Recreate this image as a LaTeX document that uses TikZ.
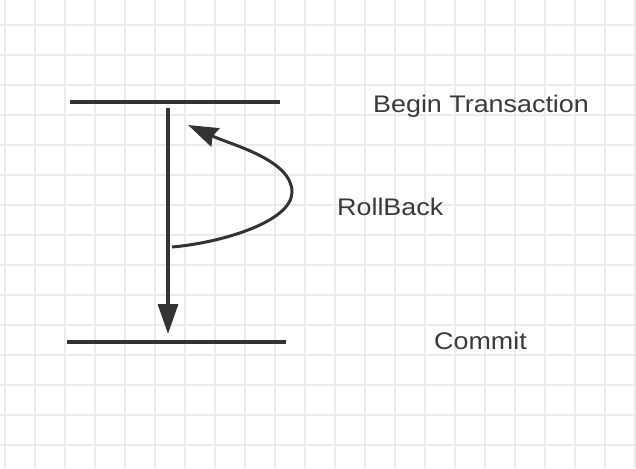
\documentclass[tikz,border=0pt]{standalone}
\usepackage{fontspec}
\setmainfont{Liberation Sans}[FakeStretch=1.12]
\usetikzlibrary{arrows.meta}
\definecolor{inkc}{HTML}{333333}
\definecolor{textc}{HTML}{3A3A3A}
\definecolor{gridc}{HTML}{EBEBEB}
\tikzset{
  gridline/.style={draw=gridc, line width=1.8pt},
  bar/.style={draw=inkc, line width=3.4pt},
  flow/.style={draw=inkc, line width=3.4pt, -{Triangle[length=30pt,width=20pt]}},
  curvearrow/.style={draw=inkc, line width=3pt, -{Stealth[length=30pt,width=20pt,inset=3pt]}},
  lbl/.style={inner sep=0pt, anchor=base west, text=textc, font=\fontsize{24}{28}\selectfont}
}
\begin{document}
\begin{tikzpicture}[x=1pt,y=-1pt]
\useasboundingbox (0,0) rectangle (636,468);
\fill[white] (0,0) rectangle (636,468);
\foreach \gx in {5,35,...,635} \draw[gridline] (\gx,0) -- (\gx,468);
\foreach \gy in {25,55,...,465} \draw[gridline] (0,\gy) -- (636,\gy);

% bars
\coordinate (tl) at (70,102);
\coordinate (tr) at (280,102);
\coordinate (bl) at (67,342);
\coordinate (br) at (286,342);
\draw[bar] (tl) -- (tr);
\draw[bar] (bl) -- (br);

% main flow arrow
\coordinate (fs) at (168,108);
\coordinate (fe) at (168,334);
\draw[flow] (fs) -- (fe);

% rollback curve
\coordinate (rs) at (172,247);
\coordinate (rm) at (292,192);
\coordinate (re) at (188,125);
\draw[curvearrow] (rs) .. controls (220,243) and (292,222) .. (rm)
                       .. controls (292,160) and (232,145) .. (re);

% labels
\node[lbl] (begin) at (373,112) {Begin Transaction};
\node[lbl] (rollback) at (337,215) {RollBack};
\node[lbl] (commit) at (434,349) {Commit};
\end{tikzpicture}
\end{document}
